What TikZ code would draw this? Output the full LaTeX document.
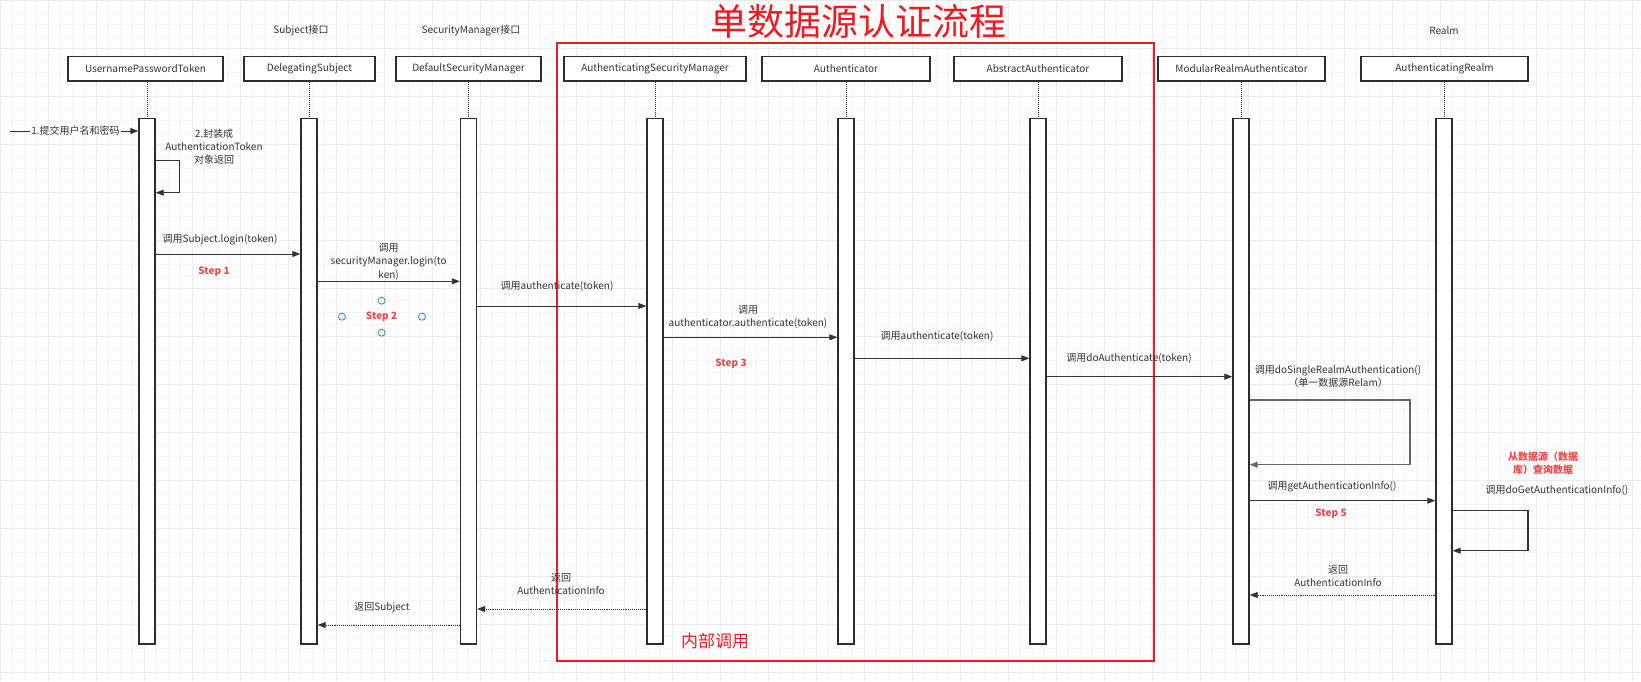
\documentclass[tikz,border=0pt]{standalone}
\usepackage{fontspec}
\setmainfont{Noto Sans CJK SC}
\usepackage{tikz}
\usetikzlibrary{arrows.meta}
\definecolor{ink}{HTML}{333333}
\definecolor{frame}{HTML}{2A2E33}
\definecolor{redline}{HTML}{ED1C24}
\definecolor{steptext}{HTML}{EA4B4B}
\definecolor{handle}{HTML}{3C8CF0}
\definecolor{gridminor}{HTML}{F5F5F5}
\definecolor{gridmajor}{HTML}{EBEBEB}

\begin{document}
\begin{tikzpicture}[x=1pt,y=-1pt,
  head/.style={draw=frame,line width=1.4pt,fill=white,minimum height=24.3,inner sep=0pt,text=ink,font=\fontsize{10}{12}\selectfont},
  bar/.style={draw=frame,line width=1.4pt,fill=white,minimum width=16,minimum height=525.3,inner sep=0pt},
  life/.style={ink,line width=1pt,densely dotted},
  msg/.style={ink,line width=0.9pt,-{Triangle[length=8pt,width=6pt]}},
  ret/.style={ink,line width=0.9pt,densely dotted,-{Triangle[length=8pt,width=6pt]}},
  lbl/.style={text=ink,inner sep=1pt,align=center,font=\fontsize{10}{13}\selectfont},
  steplbl/.style={text=steptext,inner sep=1pt,font=\bfseries\fontsize{10}{12}\selectfont},
  note/.style={text=steptext,inner sep=1pt,align=center,font=\bfseries\fontsize{10}{12.6}\selectfont},
  circ/.style={circle,draw=handle,line width=0.9pt,fill=white,minimum size=7,inner sep=0pt}]
\useasboundingbox (0,0) rectangle (1641,681);
\fill[white] (0,0) rectangle (1641,681);
% background grid
\draw[gridminor,line width=0.6pt] (0pt,-681pt) grid[step=12pt] (1641pt,0pt);
\draw[gridmajor,line width=0.6pt] (0pt,-681pt) grid[step=48pt] (1641pt,0pt);

% title and frame
\node[text=redline,inner sep=0pt,font=\fontsize{37}{40}\selectfont] (title) at (858,21.7) {单数据源认证流程};
\draw[redline,line width=1.8pt] (557,43.3) rectangle (1154,660.7);
\node[text=redline,inner sep=0pt,font=\fontsize{17}{19}\selectfont] (inner) at (715,641) {内部调用};

% stereotypes
\node[lbl] (st2) at (301,30.7) {Subject接口};
\node[lbl] (st3) at (471,30.7) {SecurityManager接口};
\node[lbl] (st8) at (1444,30.7) {Realm};

% participants
\node[head,minimum width=155] (h1) at (145.5,68.8) {UsernamePasswordToken};
\node[head,minimum width=131] (h2) at (309.5,68.8) {DelegatingSubject};
\node[head,minimum width=145] (h3) at (468.5,68.8) {DefaultSecurityManager};
\node[head,minimum width=182] (h4) at (655,68.8) {AuthenticatingSecurityManager};
\node[head,minimum width=168] (h5) at (846,68.8) {Authenticator};
\node[head,minimum width=168] (h6) at (1038,68.8) {AbstractAuthenticator};
\node[head,minimum width=167] (h7) at (1241.5,68.8) {ModularRealmAuthenticator};
\node[head,minimum width=167] (h8) at (1444.5,68.8) {AuthenticatingRealm};

% activation bars
\foreach \n/\x in {1/147,2/309,3/468.5,4/655,5/846,6/1038,7/1241,8/1444}
  \node[bar] (b\n) at (\x,381.35) {};
\foreach \n in {1,...,8}
  \draw[life] (b\n.north |- h\n.south) -- (b\n.north);

% 1. input
\coordinate (src) at (10,131);
\draw[msg] (src) -- (b1.west |- src);
\node[lbl,fill=white] (m1) at (75.5,131) {1.提交用户名和密码};

% 2. self call
\draw[msg] (b1.east |- 0,160.7) -- ++(24,0) |- (b1.east |- 0,192.7);
\node[lbl,font=\fontsize{10}{12.6}\selectfont] (m2) at (214,146.7) {2.封装成\\AuthenticationToken\\对象返回};

% step 1
\draw[msg] (b1.east |- 0,254) -- (b2.west |- 0,254);
\node[lbl] (m3) at (220,239.3) {调用Subject.login(token)};
\node[steplbl] (s1) at (214,271.3) {Step 1};

% step 2
\draw[msg] (b2.east |- 0,281.3) -- (b3.west |- 0,281.3);
\node[lbl,font=\fontsize{10}{13.2}\selectfont] (m4) at (388.6,261.8) {调用\\securityManager.login(to\\ken)};
\node[steplbl] (s2) at (381.6,316.7) {Step 2};
\node[circ] (c1) at (381.6,300.7) {};
\node[circ] (c2) at (342,316.7) {};
\node[circ] (c3) at (422,316.7) {};
\node[circ] (c4) at (381.6,332.7) {};

% inside the frame
\draw[msg] (b3.east |- 0,306) -- (b4.west |- 0,306);
\node[lbl] (m5) at (557,286) {调用authenticate(token)};
\draw[msg] (b4.east |- 0,337.3) -- (b5.west |- 0,337.3);
\node[lbl] (m6) at (748,317) {调用\\authenticator.authenticate(token)};
\node[steplbl] (s3) at (731,364) {Step 3};
\draw[msg] (b5.east |- 0,358.3) -- (b6.west |- 0,358.3);
\node[lbl] (m7) at (937,336.7) {调用authenticate(token)};
\draw[msg] (b6.east |- 0,376.7) -- (b7.west |- 0,376.7);
\node[lbl] (m8) at (1129,358.7) {调用doAuthenticate(token)};

% single realm
\draw[msg,draw=black!60,line width=1.5pt] (b7.east |- 0,400) -- (1410,400) |- (b7.east |- 0,464.7);
\node[lbl] (m9) at (1338,376) {调用doSingleRealmAuthentication()\\（单一数据源Relam）};

% step 5
\draw[msg] (b7.east |- 0,500.7) -- (b8.west |- 0,500.7);
\node[lbl] (m10) at (1332,486.7) {调用getAuthenticationInfo()};
\node[steplbl] (s5) at (1331,513.3) {Step 5};
\node[note] (n1) at (1543,463) {从数据源（数据\\库）查询数据};
\node[lbl] (m11) at (1557,490.7) {调用doGetAuthenticationInfo()};
\draw[msg,line width=1.1pt] (b8.east |- 0,510.7) -- (1528,510.7) |- (b8.east |- 0,550.7);

% returns
\draw[ret] (b8.west |- 0,595) -- (b7.east |- 0,595);
\node[lbl] (r1) at (1338,576) {返回\\AuthenticationInfo};
\draw[ret] (b4.west |- 0,609) -- (b3.east |- 0,609);
\node[lbl] (r2) at (561,583.5) {返回\\AuthenticationInfo};
\draw[ret] (b3.west |- 0,625) -- (b2.east |- 0,625);
\node[lbl] (r3) at (382,608) {返回Subject};
\end{tikzpicture}
\end{document}
